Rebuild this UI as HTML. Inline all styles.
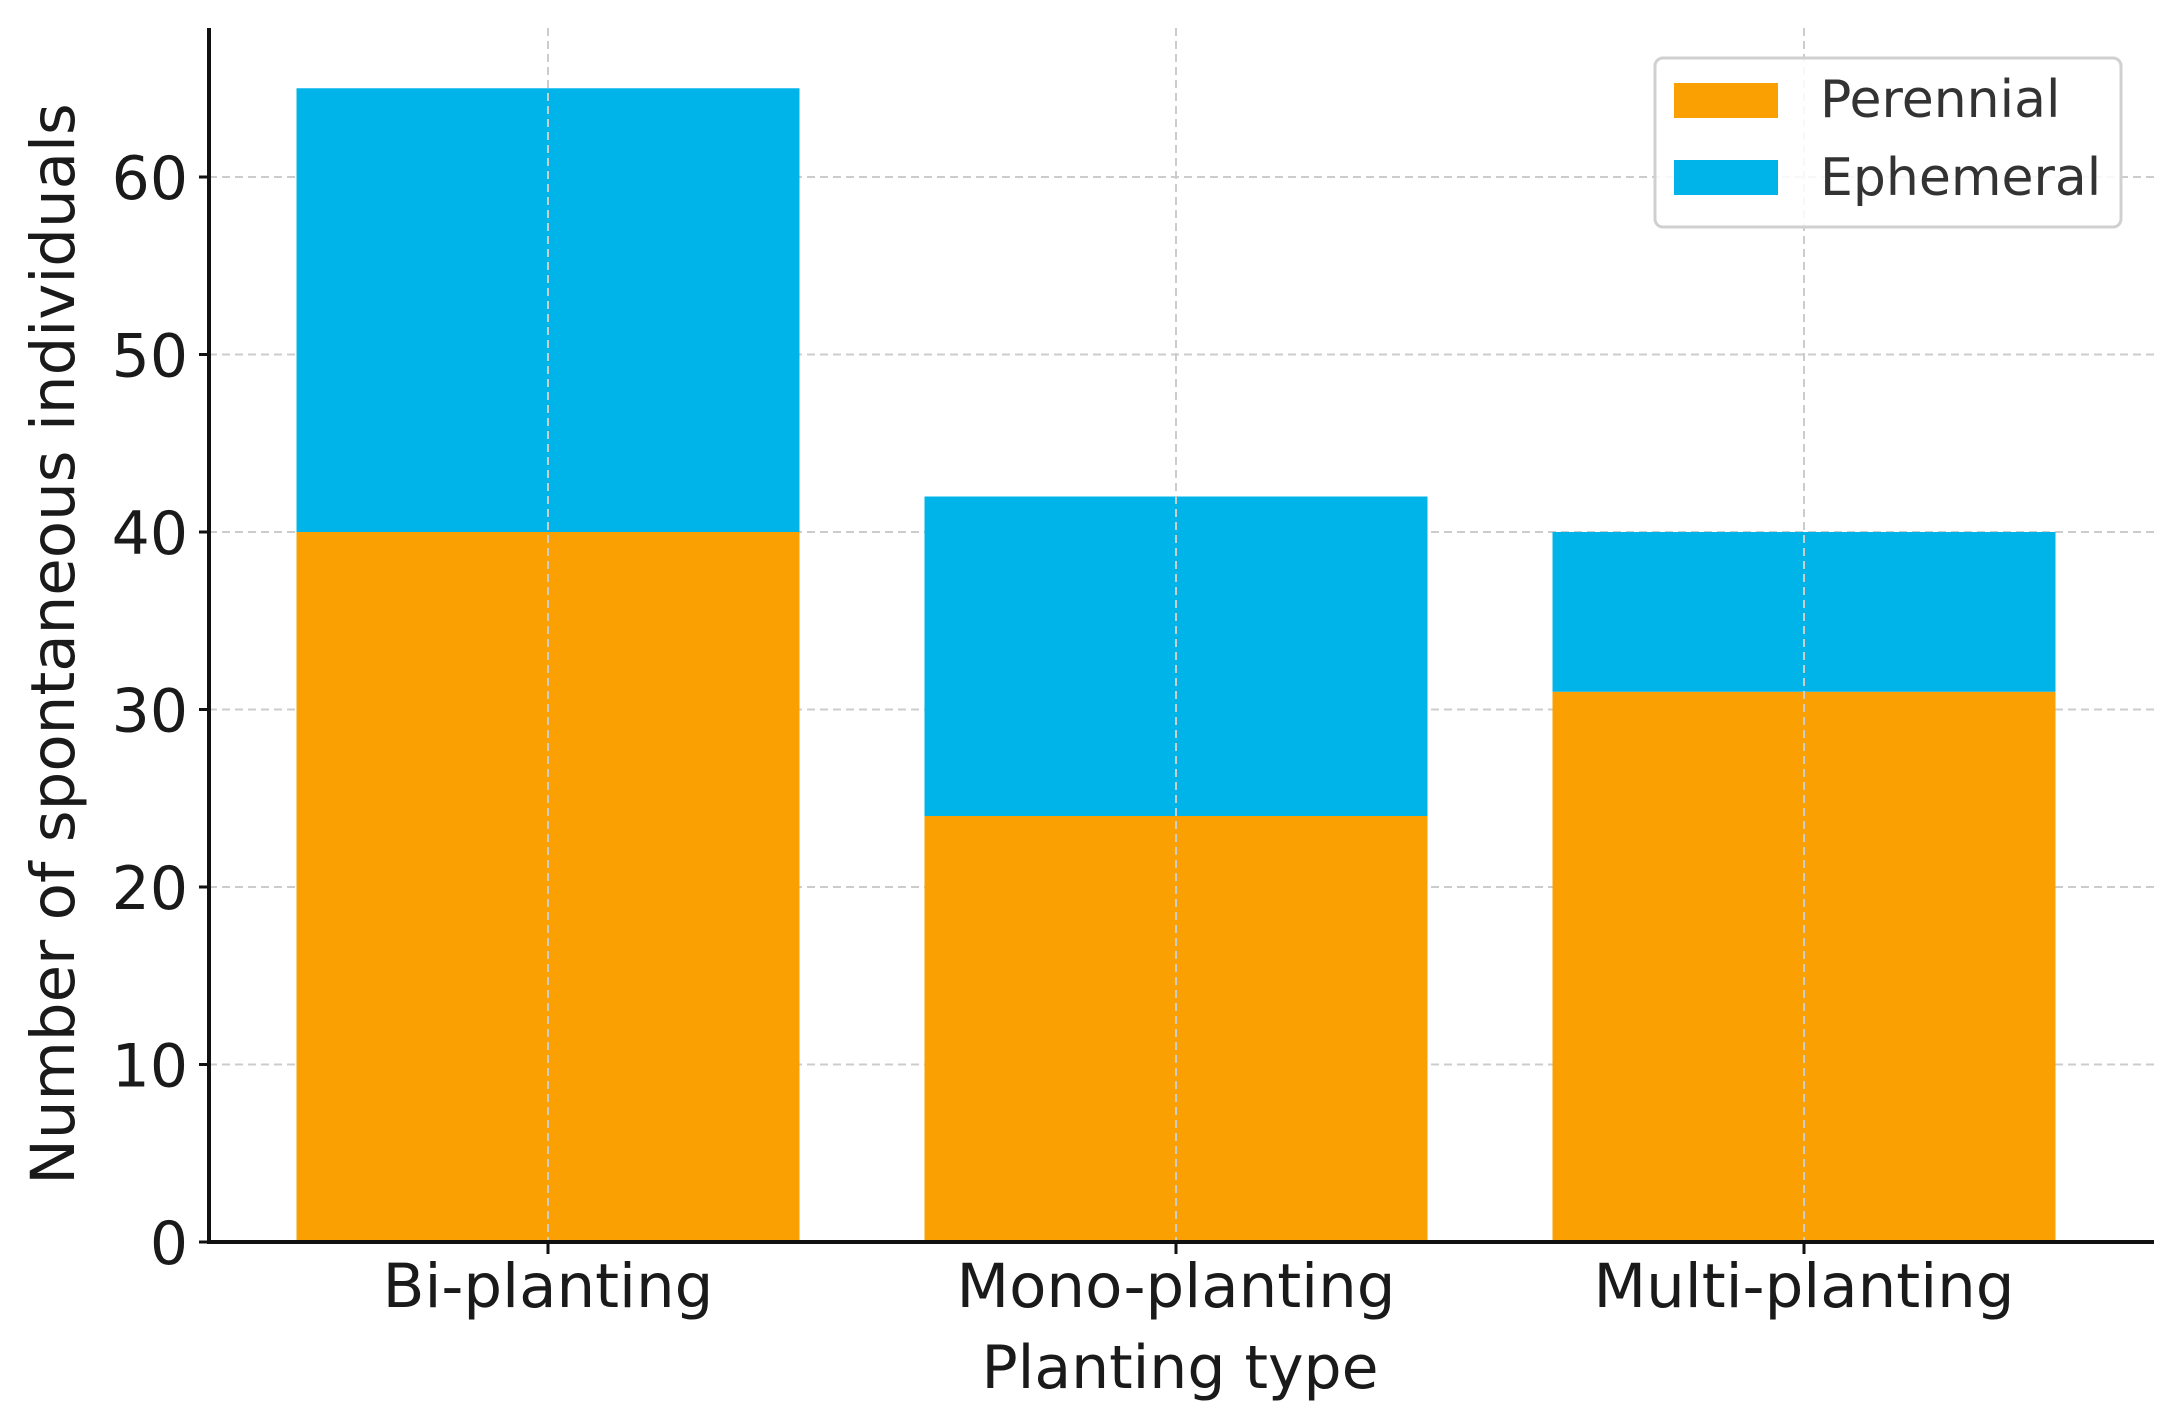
<!DOCTYPE html>
<html><head><meta charset="utf-8"><style>
html,body{margin:0;padding:0;background:#fff;}
svg{display:block;font-family:"DejaVu Sans","Liberation Sans",sans-serif;}
</style></head><body>
<svg id="chart" width="2175" height="1426" viewBox="0 0 2175 1426" xmlns="http://www.w3.org/2000/svg">
<g id="grid"></g>
<g id="bars"></g>
<g id="axes"></g>
<text x="0" y="0" transform="translate(74,644) rotate(-90)" text-anchor="middle" font-size="61" fill="#1a1a1a">Number of spontaneous individuals</text>
<text x="1180" y="1388" text-anchor="middle" font-size="60" fill="#1a1a1a">Planting type</text>
<g>
<rect x="1655" y="58" width="466" height="169" rx="8" fill="#fff" fill-opacity="0.85" stroke="#d0d0d0" stroke-width="3"/>
<rect x="1674" y="83" width="104" height="35" fill="#FBA002"/>
<text x="1820" y="117" font-size="52" fill="#333">Perennial</text>
<rect x="1674" y="160" width="104" height="35" fill="#00B4EA"/>
<text x="1820" y="195" font-size="52" fill="#333">Ephemeral</text>
</g>
</svg>
<script>
const categories = ["Bi-planting", "Mono-planting", "Multi-planting"];
const perennial = [40, 24, 31];
const ephemeral = [25, 18, 9];
const yTicks = [0, 10, 20, 30, 40, 50, 60];

const NS = "http://www.w3.org/2000/svg";
const L = 209, R = 2154, B = 1242, T = 28;
const yPerUnit = (1242 - 177) / 60;
function yScale(v){ return B - v * yPerUnit; }
const step = 628, firstCenter = 548, barW = 503;
function xScale(i){ return firstCenter + i * step; }
function mk(tag, attrs, parent){
  const el = document.createElementNS(NS, tag);
  for (const k in attrs) el.setAttribute(k, attrs[k]);
  parent.appendChild(el);
  return el;
}
const grid = document.getElementById('grid');
const bars = document.getElementById('bars');
const axes = document.getElementById('axes');

yTicks.forEach(function(t){
  const y = yScale(t);
  if (t > 0) {
    const g = mk('line', {x1:L, x2:R, y1:y, y2:y, stroke:'#cccccc', 'stroke-width':2, 'stroke-dasharray':'8,5'}, grid);
    
    
  }
  const tk = mk('line', {x1:L-10, x2:L, y1:y, y2:y, stroke:'#111', 'stroke-width':3}, axes);
  
  
  const lb = mk('text', {x:188, y:y+22, 'text-anchor':'end', 'font-size':60, fill:'#1a1a1a'}, axes);
  lb.textContent = t;
  
  
});

categories.forEach(function(c, i){
  const cx = xScale(i);
  const p = mk('rect', {x:cx-barW/2, y:yScale(perennial[i]), width:barW, height:yScale(0)-yScale(perennial[i]), fill:'#FBA002'}, bars);
  
  
  const top = perennial[i] + ephemeral[i];
  const e = mk('rect', {x:cx-barW/2, y:yScale(top), width:barW, height:yScale(perennial[i])-yScale(top), fill:'#00B4EA'}, bars);
  
  
  const g = mk('line', {x1:cx, x2:cx, y1:T, y2:B, stroke:'#cccccc', 'stroke-width':2, 'stroke-dasharray':'8,5'}, bars);
  
  
  const tk = mk('line', {x1:cx, x2:cx, y1:B, y2:B+12, stroke:'#111', 'stroke-width':3}, axes);
  
  
  const lb = mk('text', {x:cx, y:1307, 'text-anchor':'middle', 'font-size':61, fill:'#1a1a1a'}, axes);
  lb.textContent = c;
  
  
});

const ya = mk('line', {x1:L, x2:L, y1:T, y2:B+2, stroke:'#111', 'stroke-width':4}, axes);


const xa = mk('line', {x1:L-2, x2:R, y1:B, y2:B, stroke:'#111', 'stroke-width':4}, axes);


</script>
</body></html>
